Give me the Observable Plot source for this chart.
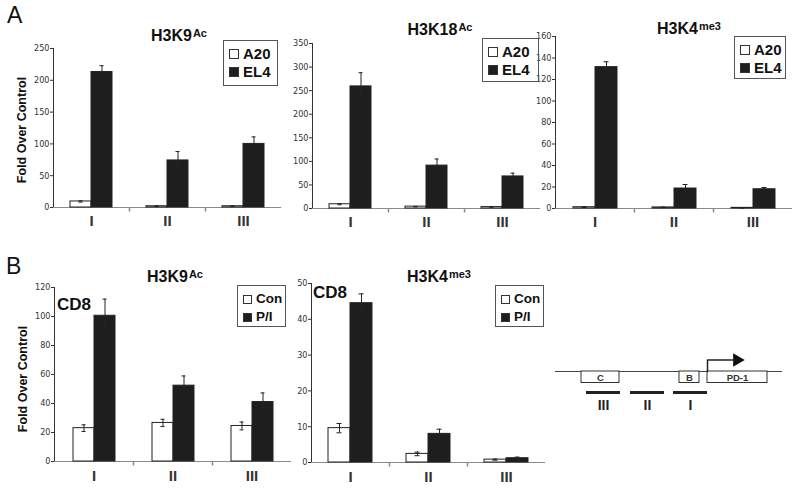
<!DOCTYPE html>
<html>
<head>
<meta charset="utf-8">
<script src="https://cdn.jsdelivr.net/npm/d3@7"></script>
<script src="https://cdn.jsdelivr.net/npm/@observablehq/plot@0.6"></script>
<style>
  body { margin: 0; background: #fff; }
  #fig { position: relative; width: 800px; height: 490px; overflow: hidden; background: #fff;
         font-family: "Liberation Sans", Arial, Helvetica, sans-serif; color: #111; }
  .abs { position: absolute; white-space: nowrap; }
  .title { font-weight: bold; font-size: 16px; line-height: 16px; transform: translateX(-50%); }
  .title span { font-size: 11px; position: relative; top: -4px; margin-left: 1px; }
  .letter { font-size: 23px; line-height: 23px; }
  .cd8 { font-size: 17px; line-height: 17px; font-weight: bold; }
  .ylab { font-size: 12.5px; line-height: 13px; font-weight: bold; transform: translate(-50%, -50%) rotate(-90deg); }
  .legend { border: 1px solid #555; box-sizing: border-box; padding: 4px 0 0 5px; font-weight: bold; }
  .legend .row { height: 18px; line-height: 18px; display: flex; align-items: center; }
  .legend .sw { display: inline-block; box-sizing: border-box; border: 1px solid #333; margin-right: 4px; }
  .catplot g[aria-label="fx-axis tick label"] text { font-weight: bold; font-size: 15px; font-family: "Liberation Sans", Arial, sans-serif; }
</style>
</head>
<body>
<div id="fig"></div>
<script>
// ---------- Data ----------
const categories = ["I", "II", "III"];
const seriesA = ["A20", "EL4"];
const seriesB = ["Con", "P/I"];

// Panel A — H3K9Ac
const a1A20 = [9.5, 2, 2];
const a1A20Err = [1, 0.4, 0.4];
const a1EL4 = [213, 74, 100];
const a1EL4Err = [10, 14, 11];
const a1Ticks = [0, 50, 100, 150, 200, 250];

// Panel A — H3K18Ac
const a2A20 = [9, 4, 3];
const a2A20Err = [1, 0.5, 0.5];
const a2EL4 = [259, 91, 68];
const a2EL4Err = [29, 14, 7];
const a2Ticks = [0, 50, 100, 150, 200, 250, 300, 350];

// Panel A — H3K4me3
const a3A20 = [1.2, 1, 0.6];
const a3A20Err = [0.3, 0.2, 0.2];
const a3EL4 = [131.5, 18.6, 17.9];
const a3EL4Err = [5, 3.7, 1.6];
const a3Ticks = [0, 20, 40, 60, 80, 100, 120, 140, 160];

// Panel B — H3K9Ac (CD8)
const b1Con = [23, 26.6, 24.5];
const b1ConErr = [2.3, 2.5, 2.7];
const b1PI = [100.5, 52.3, 41];
const b1PIErr = [11.5, 6.7, 6.3];
const b1Ticks = [0, 20, 40, 60, 80, 100, 120];

// Panel B — H3K4me3 (CD8)
const b2Con = [9.6, 2.4, 0.8];
const b2ConErr = [1.3, 0.5, 0.15];
const b2PI = [44.5, 8, 1.2];
const b2PIErr = [2.6, 1.3, 0.3];
const b2Ticks = [0, 10, 20, 30, 40, 50];

// PD-1 locus schematic (relative units along the locus)
const locusExtent = [0, 227];
const locusBoxes = ["C", "B", "PD-1"];
const locusBoxStart = [26, 124, 152];
const locusBoxEnd = [64, 144, 212];
const tssPos = 152;
const ampliconNames = ["III", "II", "I"];
const ampliconStart = [31, 75, 118];
const ampliconEnd = [65, 109, 152];

// ---------- Drawing ----------
const fig = document.getElementById("fig");
const narrow = '"Liberation Sans Narrow", "DejaVu Sans Condensed", "Liberation Sans", Arial, sans-serif';

function place(el, left, top) {
  el.style.position = "absolute";
  el.style.left = left + "px";
  el.style.top = top + "px";
  fig.appendChild(el);
}
function addDiv(cls, html, left, top, extra = {}) {
  const d = document.createElement("div");
  d.className = "abs " + cls;
  d.innerHTML = html;
  d.style.left = left + "px";
  d.style.top = top + "px";
  Object.assign(d.style, extra);
  fig.appendChild(d);
  return d;
}

const tickDown = { draw(ctx) { ctx.moveTo(0, 0); ctx.lineTo(0, 4); } };

function panel(cfg) {
  const rows = [];
  categories.forEach((c, i) => cfg.series.forEach((s, j) => {
    rows.push({ cat: c, series: s, value: cfg.values[j][i], err: cfg.errs[j][i] });
  }));
  const whites = rows.filter(d => d.series === cfg.series[0]);
  const svg = Plot.plot({
    className: "catplot",
    width: cfg.w, height: cfg.h,
    marginLeft: cfg.mL, marginRight: cfg.mR, marginTop: cfg.mT, marginBottom: cfg.mB,
    style: { background: "none", overflow: "visible", fontFamily: narrow, fontSize: "9px", color: "#333" },
    fx: { domain: categories, padding: 0, label: null },
    x: { domain: cfg.series, paddingInner: 0, paddingOuter: cfg.po, axis: null },
    y: { domain: [0, cfg.ticks[cfg.ticks.length - 1]], ticks: cfg.ticks, tickSize: 3, tickPadding: 1, line: true, label: null },
    color: { domain: cfg.series, range: ["white", "#1e1e1e"] },
    marks: [
      Plot.ruleY([0], { stroke: "#8a8a8a" }),
      Plot.dot(["II", "III"], { fx: d => d, frameAnchor: "bottom-left", symbol: tickDown, stroke: "#8a8a8a", fill: "none" }),
      Plot.barY(rows, { fx: "cat", x: "series", y: "value", fill: "series", stroke: "#222", strokeWidth: 1 }),
      Plot.ruleX(rows, { fx: "cat", x: "series", y1: d => d.value - d.err, y2: d => d.value + d.err, stroke: "#222" }),
      Plot.tickY(rows, { fx: "cat", x: "series", y: d => d.value + d.err, insetLeft: 8.5, insetRight: 8.5, stroke: "#222" }),
      Plot.tickY(whites, { fx: "cat", x: "series", y: d => d.value - d.err, insetLeft: 8.5, insetRight: 8.5, stroke: "#222" }),
      Plot.axisFx({ anchor: "bottom", tickSize: 0, tickPadding: cfg.catPad, fontSize: 15, fontWeight: "bold", label: null })
    ]
  });
  place(svg, cfg.left, cfg.top);
}

panel({ left: 0, top: 0, w: 290, h: 235, mL: 52, mR: 8, mT: 48, mB: 28, po: 0.75, catPad: 8,
        series: seriesA, values: [a1A20, a1EL4], errs: [a1A20Err, a1EL4Err], ticks: a1Ticks });
panel({ left: 270, top: 0, w: 280, h: 235, mL: 42, mR: 10, mT: 43, mB: 27, po: 0.73, catPad: 8,
        series: seriesA, values: [a2A20, a2EL4], errs: [a2A20Err, a2EL4Err], ticks: a2Ticks });
panel({ left: 525, top: 0, w: 275, h: 235, mL: 30, mR: 8, mT: 36, mB: 27, po: 0.75, catPad: 8,
        series: seriesA, values: [a3A20, a3EL4], errs: [a3A20Err, a3EL4Err], ticks: a3Ticks });
panel({ left: 0, top: 240, w: 300, h: 250, mL: 54, mR: 9, mT: 47, mB: 29, po: 0.82, catPad: 9,
        series: seriesB, values: [b1Con, b1PI], errs: [b1ConErr, b1PIErr], ticks: b1Ticks });
panel({ left: 265, top: 240, w: 290, h: 250, mL: 45, mR: 10, mT: 43, mB: 28, po: 0.73, catPad: 9,
        series: seriesB, values: [b2Con, b2PI], errs: [b2ConErr, b2PIErr], ticks: b2Ticks });

// Titles
addDiv("title", "H3K9<span>Ac</span>", 179, 28);
addDiv("title", "H3K18<span>Ac</span>", 440, 22);
addDiv("title", "H3K4<span>me3</span>", 689, 21);
addDiv("title", "H3K9<span>Ac</span>", 175, 269);
addDiv("title", "H3K4<span>me3</span>", 439, 269);

// Panel letters, CD8 labels, y labels
addDiv("letter", "A", 7, 4);
addDiv("letter", "B", 6, 255);
addDiv("cd8", "CD8", 57, 296);
addDiv("cd8", "CD8", 313, 284);
addDiv("ylab", "Fold Over Control", 22, 130);
addDiv("ylab", "Fold Over Control", 23, 379);

// Legends
function legend(series, left, top, w, h, fs, sw) {
  const html = series.map((s, i) =>
    `<div class="row"><span class="sw" style="width:${sw}px;height:${sw}px;background:${i === 0 ? "#fff" : "#1e1e1e"}"></span>${s}</div>`
  ).join("");
  addDiv("legend", html, left, top, { width: w + "px", height: h + "px", fontSize: fs + "px" });
}
legend(seriesA, 223, 40, 55, 46, 15, 10);
legend(seriesA, 482, 38, 57, 44, 15, 10);
legend(seriesA, 734, 36, 52, 43, 15, 10);
legend(seriesB, 237, 285, 49, 42, 13.5, 9);
legend(seriesB, 495, 285, 49, 42, 13.5, 9);

// Locus schematic
const boxes = locusBoxes.map((b, i) => ({ label: b, start: locusBoxStart[i], end: locusBoxEnd[i] }));
const amps = ampliconNames.map((n, i) => ({ name: n, start: ampliconStart[i], end: ampliconEnd[i] }));
const diag = Plot.plot({
  width: 260, height: 70,
  marginLeft: 15, marginRight: 18, marginTop: 0, marginBottom: 0,
  style: { background: "none", overflow: "visible", fontFamily: '"Liberation Sans", Arial, sans-serif' },
  x: { domain: locusExtent, axis: null },
  y: { domain: [50, -20], axis: null },
  marks: [
    Plot.ruleY([0], { x1: locusExtent[0], x2: locusExtent[1], stroke: "#444" }),
    Plot.rect(boxes, { x1: "start", x2: "end", y1: 0, y2: 11.5, fill: "white", stroke: "#333" }),
    Plot.text(boxes, { x: d => (d.start + d.end) / 2, y: 6, text: "label", fontSize: 9.5, fontWeight: "bold", fill: "#333" }),
    Plot.line([[tssPos, 0], [tssPos, -11.5], [tssPos + 25, -11.5]], { stroke: "#222" }),
    Plot.dot([[tssPos + 29.5, -11.5]], { symbol: "triangle", rotate: 90, r: 5, fill: "#111", stroke: "none" }),
    Plot.ruleY(amps, { x1: "start", x2: "end", y: 21, stroke: "#222", strokeWidth: 3 }),
    Plot.text(amps, { x: d => (d.start + d.end) / 2, y: 34, text: "name", fontSize: 14, fontWeight: "bold", fill: "#222" })
  ]
});
place(diag, 540, 351);
</script>
</body>
</html>
